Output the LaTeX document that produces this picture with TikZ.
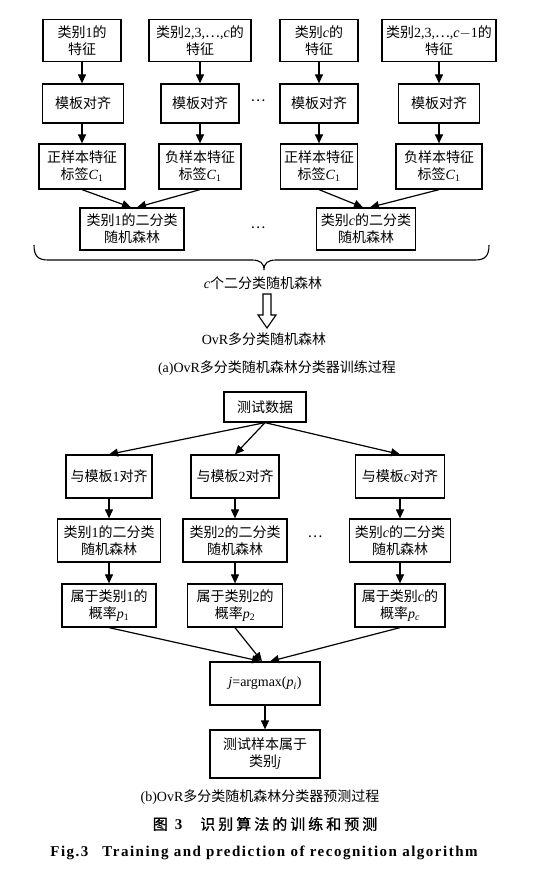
\documentclass[tikz,border=0pt]{standalone}
\usepackage{fontspec}
\setmainfont{Liberation Serif}
\newfontfamily\cjk{Noto Sans CJK SC}
\newfontfamily\cjkcap[LetterSpace=20,FakeBold=1]{Noto Sans CJK SC}
\newfontfamily\figfont[LetterSpace=10]{Liberation Serif}
\newcommand\zh[1]{{\cjk #1}}
\usetikzlibrary{arrows.meta,calc}
\tikzset{
  box/.style={draw, line width=1.25pt, inner sep=0pt, align=center,
    font=\fontsize{14}{17}\selectfont},
  lbl/.style={inner sep=0pt, align=center, font=\fontsize{14}{17}\selectfont},
  arr/.style={line width=1.2pt, -{Triangle[length=9pt,width=8pt]}},
  dotsnode/.style={inner sep=0pt, font=\fontsize{14}{17}\selectfont}
}
\begin{document}
\begin{tikzpicture}[x=1pt,y=-1pt]
\useasboundingbox (0,0) rectangle (557,885);
% ---------- part (a) ----------
\node[box, minimum width=78, minimum height=42] (A1) at (82,40.5) {\zh{类别}1\zh{的}\\\zh{特征}};
\node[box, minimum width=102, minimum height=42] (A2) at (200,40.5) {\zh{类别}2,3,\zh{⋯},\textit{c}\zh{的}\\\zh{特征}};
\node[box, minimum width=78, minimum height=42] (A3) at (319,40.5) {\zh{类别}\textit{c}\zh{的}\\\zh{特征}};
\node[box, minimum width=114, minimum height=42] (A4) at (439,40.5) {\zh{类别}2,3,\zh{⋯},\textit{c}$-$1\zh{的}\\\zh{特征}};

\node[box, minimum width=81, minimum height=39] (B1) at (83,103.5) {\zh{模板对齐}};
\node[box, minimum width=78, minimum height=39] (B2) at (200,103.5) {\zh{模板对齐}};
\node[box, minimum width=78, minimum height=39] (B3) at (319,103.5) {\zh{模板对齐}};
\node[box, minimum width=81, minimum height=39] (B4) at (439,103.5) {\zh{模板对齐}};
\node[dotsnode] (dots1) at (258,101) {\zh{⋯}};

\node[box, minimum width=86, minimum height=45] (C1) at (82,166.5) {\zh{正样本特征}\\\zh{标签}\textit{C}\textsubscript{1}};
\node[box, minimum width=82, minimum height=45] (C2) at (200,166.5) {\zh{负样本特征}\\\zh{标签}\textit{C}\textsubscript{1}};
\node[box, minimum width=77, minimum height=45] (C3) at (319,166.5) {\zh{正样本特征}\\\zh{标签}\textit{C}\textsubscript{1}};
\node[box, minimum width=86, minimum height=45] (C4) at (439,166.5) {\zh{负样本特征}\\\zh{标签}\textit{C}\textsubscript{1}};

\node[box, minimum width=104, minimum height=42] (D1) at (132,229) {\zh{类别}1\zh{的二分类}\\\zh{随机森林}};
\node[box, minimum width=99, minimum height=42] (D3) at (366,229) {\zh{类别}\textit{c}\zh{的二分类}\\\zh{随机森林}};
\node[dotsnode] (dots2) at (258,228) {\zh{⋯}};

\draw[arr] (A1.south) -- (A1.south |- B1.north);
\draw[arr] (A2.south) -- (A2.south |- B2.north);
\draw[arr] (A3.south) -- (A3.south |- B3.north);
\draw[arr] (A4.south) -- (A4.south |- B4.north);
\draw[arr] (B1.south -| A1.south) -- (A1.south |- C1.north);
\draw[arr] (B2.south) -- (B2.south |- C2.north);
\draw[arr] (B3.south) -- (B3.south |- C3.north);
\draw[arr] (B4.south) -- (B4.south |- C4.north);
\draw[arr] (C1.south) -- ($(D1.north)+(-1,0)$);
\draw[arr] (C2.south) -- ($(D1.north)+(5,0)$);
\draw[arr] (C3.south) -- ($(D3.north)+(-3,0)$);
\draw[arr] (C4.south) -- ($(D3.north)+(4,0)$);

% brace
\draw[line width=1.1pt] (34,245) .. controls (34,256) and (38,260) .. (48,260) -- (252,260)
  .. controls (260,260) and (264,263) .. (264,270)
  .. controls (264,263) and (268,260) .. (276,260) -- (475,260)
  .. controls (485,260) and (489,256) .. (489,245);

\node[lbl] (cforest) at (263,283) {\textit{c}\zh{个二分类随机森林}};
\node[lbl] (ovr) at (264,339) {OvR\zh{多分类随机森林}};
\draw[line width=1.1pt] (263,294) -- (271,294) -- (271,315) -- (276,315) -- (267,328) -- (258,315) -- (263,315) -- cycle;
\node[lbl] (capa) at (277,368) {(a)OvR\zh{多分类随机森林分类器训练过程}};

% ---------- part (b) ----------
\node[box, minimum width=82, minimum height=30] (T) at (265,407) {\zh{测试数据}};

\node[box, minimum width=86, minimum height=43] (E1) at (109,476.5) {\zh{与模板}1\zh{对齐}};
\node[box, minimum width=88, minimum height=43] (E2) at (235,476.5) {\zh{与模板}2\zh{对齐}};
\node[box, minimum width=89, minimum height=43] (E3) at (400,476.5) {\zh{与模板}\textit{c}\zh{对齐}};

\node[box, minimum width=103, minimum height=43] (F1) at (109,540.5) {\zh{类别}1\zh{的二分类}\\\zh{随机森林}};
\node[box, minimum width=104, minimum height=43] (F2) at (235,540.5) {\zh{类别}2\zh{的二分类}\\\zh{随机森林}};
\node[box, minimum width=101, minimum height=43] (F3) at (400,540.5) {\zh{类别}\textit{c}\zh{的二分类}\\\zh{随机森林}};
\node[dotsnode] (dots3) at (315,537) {\zh{⋯}};

\node[box, minimum width=94, minimum height=43] (G1) at (109,605.5) {\zh{属于类别}1\zh{的}\\\zh{概率}\textit{p}\textsubscript{1}};
\node[box, minimum width=95, minimum height=43] (G2) at (235,605.5) {\zh{属于类别}2\zh{的}\\\zh{概率}\textit{p}\textsubscript{2}};
\node[box, minimum width=90, minimum height=43] (G3) at (400,605.5) {\zh{属于类别}\textit{c}\zh{的}\\\zh{概率}\textit{p}\textsubscript{\textit{c}}};

\node[box, minimum width=110, minimum height=43] (H) at (265,683.5) {\textit{j}=argmax(\textit{p}\textsubscript{\textit{i}})};
\node[box, minimum width=110, minimum height=48] (I) at (265,754) {\zh{测试样本属于}\\\zh{类别}\textit{j}};

\draw[arr] (T.south) -- (E1.north);
\draw[arr] (T.south) -- (E2.north);
\draw[arr] (T.south) -- (E3.north);
\draw[arr] (E1.south) -- (F1.north);
\draw[arr] (E2.south) -- (F2.north);
\draw[arr] (E3.south) -- (F3.north);
\draw[arr] (F1.south) -- (G1.north);
\draw[arr] (F2.south) -- (G2.north);
\draw[arr] (F3.south) -- (G3.north);
\draw[arr] (G1.south) -- ($(H.north)+(-4,0)$);
\draw[arr] (G2.south) -- ($(H.north)+(-3,0)$);
\draw[arr] (G3.south) -- ($(H.north)+(5,0)$);
\draw[arr] (H.south) -- (I.north);

\node[lbl] (capb) at (260,797) {(b)OvR\zh{多分类随机森林分类器预测过程}};
\node[inner sep=0pt, font=\fontsize{15}{18}\selectfont] (cap3) at (265,824) {{\cjkcap 图}\hspace{4pt}\textbf{3}\hspace{18pt}{\cjkcap 识别算法的训练和预测}};
\node[inner sep=0pt, font=\fontsize{15}{18}\selectfont\figfont\bfseries] (fig3) at (264,853) {Fig.3\hspace{14pt}Training and prediction of recognition algorithm};
\end{tikzpicture}
\end{document}
